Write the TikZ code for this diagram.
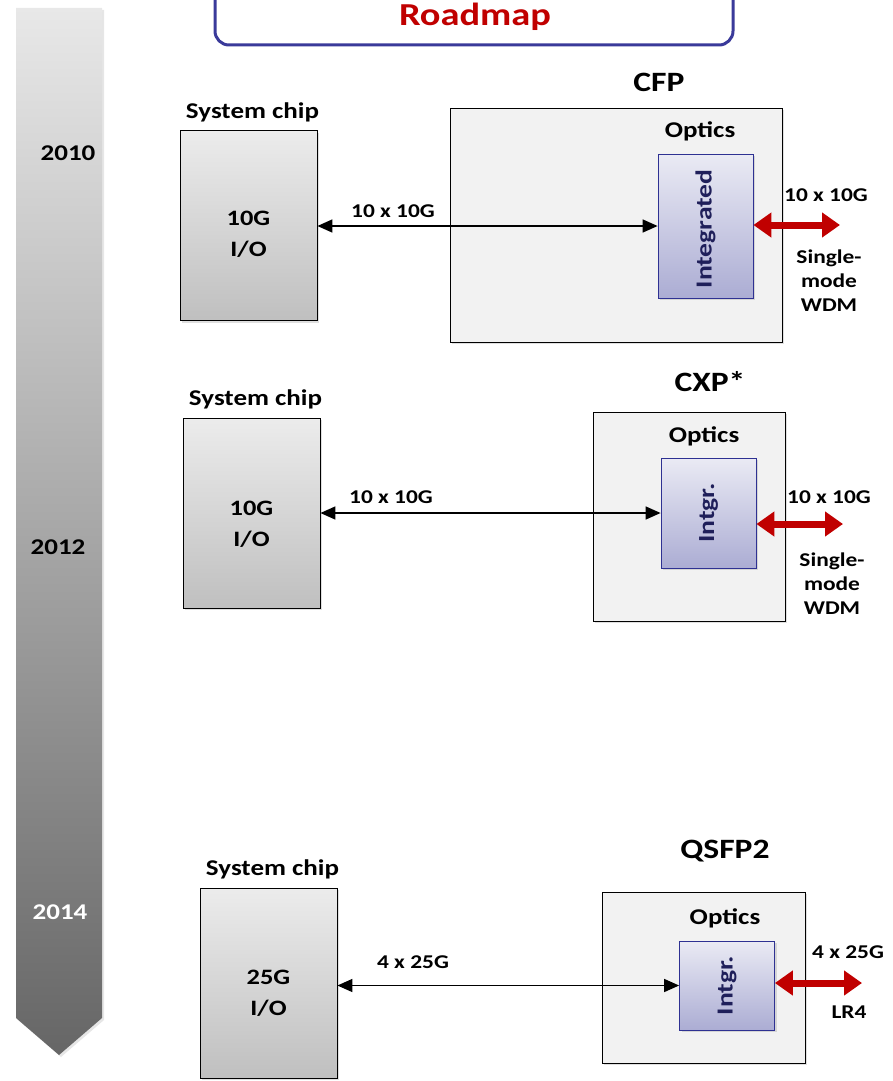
\documentclass[tikz,border=0pt]{standalone}
\usepackage{fontspec}
\setmainfont{Carlito}[FakeStretch=1.2]
\usepackage{xcolor}
\usetikzlibrary{calc,
	positioning,
	shapes,
	arrows,
	arrows.meta,
	shadows}
\definecolor{roadred}{HTML}{C00000}
\definecolor{roadblue}{HTML}{3A3A9A}
\definecolor{intgborder}{HTML}{2E3192}
\definecolor{intgtext}{HTML}{1F1F5A}
\definecolor{bandtop}{HTML}{E8E8E8}
\definecolor{bandbot}{HTML}{666666}
\tikzstyle{chip}=[draw, thick, top color=gray!15, bottom color=gray!50,
		minimum width=137pt, minimum height=190pt, inner sep=0,
		drop shadow={shadow xshift=2pt, shadow yshift=-2pt, opacity=0.25}]
\tikzstyle{module}=[draw, thick, fill=gray!10, inner sep=0,
		drop shadow={shadow xshift=2pt, shadow yshift=-2pt, opacity=0.25}]
\tikzstyle{intg}=[draw=intgborder, thick, top color=intgborder!10, bottom color=intgborder!40,
		minimum width=95pt, inner sep=0,
		drop shadow={shadow xshift=2pt, shadow yshift=-2pt, opacity=0.25}]
\tikzstyle{intgtxt}=[rotate=90, inner sep=0, text=intgtext, font=\fontsize{23}{25}\bfseries]
\tikzstyle{lbl}=[font=\fontsize{22.5}{24}\bfseries, inner sep=0]
\tikzstyle{chiptxt}=[font=\fontsize{22}{24}\bfseries, align=center, inner sep=0]
\tikzstyle{hdr}=[font=\fontsize{28}{30}\bfseries, inner sep=0]
\tikzstyle{sml}=[font=\fontsize{19.5}{24}\bfseries, inner sep=0, align=center]
\tikzstyle{link}=[line width=1.5pt, {Triangle[length=15pt,width=13pt]}-{Triangle[length=15pt,width=13pt]}]
\tikzstyle{fibre}=[roadred, line width=7pt, {Triangle[length=18pt,width=24pt]}-{Triangle[length=18pt,width=24pt]}]

\begin{document}
\begin{tikzpicture}[x=1pt, y=-1pt]
            \useasboundingbox (0,0) rectangle (893,1081);
            \shade[top color=bandtop, bottom color=bandbot, drop shadow={shadow xshift=2pt, shadow yshift=-2pt, opacity=0.2}]
                (16,8) -- (102,8) -- (102,1018) -- (59,1055) -- (16,1018) -- cycle;
            \node[lbl] (y2010) at (68,153) {2010};
            \node[lbl] (y2012) at (58,547) {2012};
            \node[lbl, text=white] (y2014) at (60,912) {2014};

            \draw[roadblue, line width=3pt, rounded corners=14pt] (215,-30) rectangle (733,45);
            \node[font=\fontsize{32}{34}\bfseries, text=roadred, inner sep=0] (title) at (475,17) {Roadmap};

            \node[chip] (chipA) at (248.5,225.5) {};
            \node[chiptxt] (ioA) at ([yshift=-9pt]chipA.center) {10G\\[7pt]I/O};
            \node[lbl, above=8pt of chipA, xshift=4pt] (sysA) {System chip};
            \node[module, minimum width=332pt, minimum height=234pt] (cfp) at (616,225) {};
            \node[hdr] (cfpname) at (659,82) {CFP};
            \node[lbl] (optA) at (700,131) {Optics};
            \node[intg, minimum height=144pt] (intA) at (705.5,226) {};
            \node[intgtxt] (intAtxt) at ([yshift=-3pt]intA.center) {Integrated};
            \coordinate (outA) at (840,225);
            \draw[link] (chipA.east |- intA.west) -- (intA.west);
            \node[sml] (rateA) at (393,211) {10 x 10G};
            \draw[fibre] (intA.east |- outA) -- (outA);
            \node[sml] (fibA) at (826,195) {10 x 10G};
            \node[sml] (modeA) at (829,281) {Single-\\mode\\WDM};

            \node[chip] (chipB) at (251.5,513) {};
            \node[chiptxt] (ioB) at ([yshift=-11pt]chipB.center) {10G\\[7pt]I/O};
            \node[lbl, above=8pt of chipB, xshift=4pt] (sysB) {System chip};
            \node[module, minimum width=192pt, minimum height=209pt] (cxp) at (689,516.5) {};
            \node[hdr] (cxpname) at (710,382) {CXP*};
            \node[lbl] (optB) at (704,436) {Optics};
            \node[intg, minimum height=110pt] (intB) at (708.5,513) {};
            \node[intgtxt] (intBtxt) at (intB) {Intgr.};
            \coordinate (outB) at (843,524);
            \draw[link] (chipB.east |- intB.west) -- (intB.west);
            \node[sml] (rateB) at (391,497) {10 x 10G};
            \draw[fibre] (intB.east |- outB) -- (outB);
            \node[sml] (fibB) at (829,497) {10 x 10G};
            \node[sml] (modeB) at (832,584) {Single-\\mode\\WDM};

            \node[chip] (chipC) at (268.5,983) {};
            \node[chiptxt] (ioC) at ([yshift=-10pt]chipC.center) {25G\\[7pt]I/O};
            \node[lbl, above=8pt of chipC, xshift=4pt] (sysC) {System chip};
            \node[module, minimum width=203pt, minimum height=171pt] (qsfp) at (703.5,977.5) {};
            \node[hdr] (qsfpname) at (725,851) {QSFP2};
            \node[lbl] (optC) at (725,918) {Optics};
            \node[intg, minimum height=89pt] (intC) at (727,985.5) {};
            \node[intgtxt] (intCtxt) at (intC) {Intgr.};
            \coordinate (outC) at (862,983);
            \draw[link] (chipC.east |- intC.west) -- (intC.west);
            \node[sml] (rateC) at (413,962) {4 x 25G};
            \draw[fibre] (intC.east |- outC) -- (outC);
            \node[sml] (fibC) at (848,952) {4 x 25G};
            \node[sml] (modeC) at (849,1012) {LR4};
        \end{tikzpicture}
\end{document}
